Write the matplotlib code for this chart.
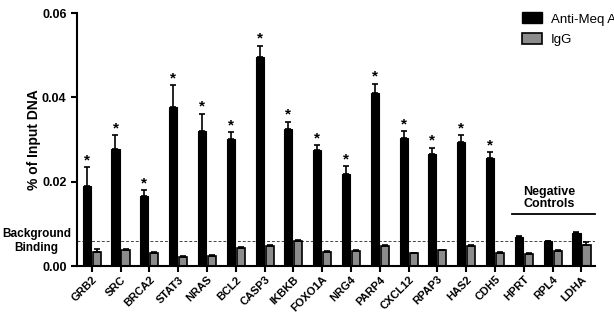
import numpy as np
import matplotlib
matplotlib.use("Agg")
from matplotlib import pyplot as plt
from matplotlib.patches import Patch

plt.rcParams['font.family'] = ['Liberation Sans', 'DejaVu Sans']

genes = ["GRB2", "SRC", "BRCA2", "STAT3", "NRAS", "BCL2", "CASP3", "IKBKB", "FOXO1A",
         "NRG4", "PARP4", "CXCL12", "RPAP3", "HAS2", "CDH5", "HPRT", "RPL4", "LDHA"]

# % of input DNA, anti-Meq antibody
meq = [0.0190, 0.0278, 0.0165, 0.0376, 0.0321, 0.0301, 0.0496, 0.0325, 0.0274,
       0.0218, 0.0410, 0.0304, 0.0266, 0.0295, 0.0256, 0.0068, 0.0059, 0.0078]
meq_err = [0.0044, 0.0032, 0.0015, 0.0053, 0.0040, 0.0016, 0.0026, 0.0017, 0.0012,
           0.0019, 0.0022, 0.0016, 0.0014, 0.0015, 0.0014, 0.0002, 0.0001, 0.0003]

# IgG control
igg = [0.0034, 0.0037, 0.0031, 0.0021, 0.0024, 0.0043, 0.0047, 0.0059, 0.0033,
       0.0036, 0.0047, 0.0030, 0.0037, 0.0047, 0.0032, 0.0028, 0.0036, 0.0051]
igg_err = [0.0006, 0.0003, 0.0002, 0.0002, 0.0002, 0.0003, 0.0003, 0.0003, 0.0002,
           0.0002, 0.0003, 0.0002, 0.0002, 0.0003, 0.0002, 0.0002, 0.0002, 0.0007]

significant = [True] * 15 + [False] * 3
background = 0.0059

x = np.arange(len(genes))
w = 0.28
off = 0.174

fig = plt.figure(figsize=(6.14, 3.12), dpi=100)
ax = fig.add_axes([0.1254, 0.1474, 0.8437, 0.8109])

ax.bar(x - off, meq, w, color="black", edgecolor="black", linewidth=0.8,
       yerr=[np.zeros(len(meq)), meq_err], capsize=2.5,
       error_kw=dict(ecolor="black", elinewidth=1.2, capthick=1.2))
ax.bar(x + off, igg, w, color="#8c8c8c", edgecolor="black", linewidth=1.2,
       yerr=[np.zeros(len(igg)), igg_err], capsize=2.5,
       error_kw=dict(ecolor="black", elinewidth=1.2, capthick=1.2))

# significance stars
for i in range(len(genes)):
    if significant[i]:
        ax.annotate("*", (x[i] - off, meq[i] + meq_err[i]), xytext=(0, 0),
                    textcoords="offset points", ha="center", va="bottom",
                    fontsize=11, fontweight="bold")

ax.axhline(background, color="#444444", linestyle=(0, (3, 2)), linewidth=0.7, zorder=0)

ax.set_xlim(-0.51, 17.47)
ax.set_ylim(0, 0.06)
ax.set_yticks([0.0, 0.02, 0.04, 0.06])
ax.set_yticklabels(["0.00", "0.02", "0.04", "0.06"], fontsize=9, fontweight="bold")
ax.set_xticks(x)
ax.set_xticklabels(genes, rotation=45, ha="right", rotation_mode="anchor",
                   fontsize=8, fontweight="bold")
ax.set_ylabel("% of Input DNA", fontsize=10, fontweight="bold", labelpad=1)

ax.spines['right'].set_visible(False)
ax.spines['top'].set_visible(False)
ax.spines['left'].set_linewidth(1.5)
ax.spines['bottom'].set_linewidth(1.5)
ax.tick_params(width=1.5, length=4)
ax.tick_params(axis='x', pad=2)

# negative controls bracket
ax.plot([14.6, 17.46], [0.0123, 0.0123], color="black", linewidth=1.3, clip_on=False)
ax.text(15.88, 0.0162, "Negative\nControls", ha="center", va="center",
        fontsize=9, fontweight="bold", linespacing=1.0)

ax.text(-0.078, background, "Background\nBinding", transform=ax.get_yaxis_transform(),
        ha="center", va="center", fontsize=8.5, fontweight="bold", linespacing=1.15)

handles = [Patch(facecolor="black", edgecolor="black"),
           Patch(facecolor="#8c8c8c", edgecolor="black", linewidth=1.2)]
fig.legend(handles, ["Anti-Meq Ab", "IgG"], loc="upper left",
           bbox_to_anchor=(0.850, 0.96), frameon=False, fontsize=9.5,
           handlelength=1.5, handleheight=0.9, handletextpad=0.7, labelspacing=0.55,
           borderpad=0, borderaxespad=0)

plt.savefig("out.png", dpi=100)
plt.close()
